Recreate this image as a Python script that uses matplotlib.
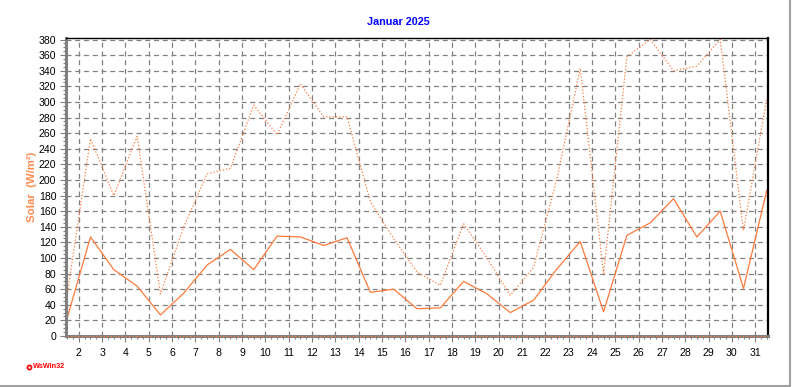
import matplotlib
matplotlib.use("Agg")
import matplotlib.pyplot as plt
from matplotlib.lines import Line2D
from matplotlib.ticker import MultipleLocator
import numpy as np

days = list(range(1, 32))
solar_avg = [23, 127, 85, 64, 27, 55, 91, 111, 85, 128, 127, 116, 126, 56, 60,
             35, 36, 70, 54, 30, 46, 86, 121, 31, 129, 145, 176, 127, 160, 61, 187]
solar_max = [52, 253, 180, 256, 54, 140, 208, 215, 296, 258, 323, 281, 281, 172, 125,
             82, 65, 144, 100, 52, 88, 202, 343, 80, 358, 380, 340, 346, 380, 135, 305]
solar_min = [0] * 31
x_labels = [str(d) for d in range(2, 32)]
y_ticks = list(range(0, 381, 20))

plt.rcParams["font.family"] = ["Liberation Sans", "DejaVu Sans"]

orange = "#ff7a3a"
grey = "#808080"

fig = plt.figure(figsize=(7.92, 3.87), dpi=100)
ax = fig.add_axes([66 / 792, 1 - 336 / 387, 702 / 792, 298 / 387])

# values belong to the middle of each day
xpos = np.array(days) + 0.5
ax.plot(xpos, solar_max, color=orange, lw=0.9, ls=(0, (1, 1.6)))
ax.plot(xpos, solar_avg, color=orange, lw=0.9)
ax.plot(xpos, solar_min, color=orange, lw=1.0, ls=(0, (1, 1.6)), clip_on=False, zorder=5)

ax.set_xlim(1.45, 31.55)
ax.set_ylim(0, 382)

ax.set_xticks(range(2, 32))
ax.set_xticklabels(x_labels)
ax.xaxis.set_minor_locator(MultipleLocator(0.25))
ax.set_yticks(y_ticks)
ax.yaxis.set_minor_locator(MultipleLocator(5))

ax.grid(True, which="major", color=grey, ls=(0, (4, 3)), lw=0.9)
ax.set_axisbelow(True)

ax.tick_params(axis="both", which="major", labelsize=7.6, length=4, width=0.8,
               color=grey, pad=3)
ax.tick_params(axis="both", which="minor", length=2.5, width=0.8, color=grey)
ax.tick_params(axis="x", which="major", pad=5)

ax.spines["left"].set_color(grey)
ax.spines["left"].set_linewidth(2.2)
ax.spines["bottom"].set_color(grey)
ax.spines["bottom"].set_linewidth(2.2)
ax.spines["top"].set_color("black")
ax.spines["top"].set_linewidth(1.0)
ax.spines["right"].set_color("black")
ax.spines["right"].set_linewidth(1.6)

fig.text(398 / 792, 1 - 22 / 387, "Januar 2025", color="#0000ff", fontsize=7.8,
         fontweight="bold", ha="center", va="center")
fig.text(32 / 792, 1 - 187 / 387, "Solar  (W/m²)", color="#ff8c50", fontsize=8.2,
         fontweight="bold", rotation=90, ha="center", va="center")

fig.text(33 / 792, 1 - 367 / 387, "WsWin32", color="#ff0000", fontsize=5.2,
         fontweight="bold", ha="left", va="center")
fig.add_artist(Line2D([29.5 / 792], [1 - 367 / 387], marker="o", ms=3, mfc="none",
                      mec="#ff0000", mew=1.2, transform=fig.transFigure))

# light frame on right and bottom edge
fig.add_artist(Line2D([0, 790 / 792, 790 / 792], [1.5 / 387, 1.5 / 387, 1],
                      color="#a0a0a0", lw=1.5, transform=fig.transFigure))

fig.savefig("out.png", dpi=100, facecolor="white")
